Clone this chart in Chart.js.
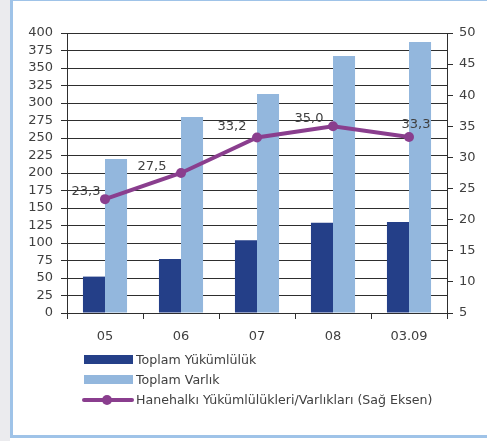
<!DOCTYPE html>
<html>
<head>
<meta charset="utf-8">
<script src="https://cdn.jsdelivr.net/npm/chart.js@4/dist/chart.umd.min.js"></script>
<style>
  html, body { margin: 0; padding: 0; }
  body { width: 487px; height: 441px; position: relative; overflow: hidden; background: #ffffff; font-family: "DejaVu Sans", sans-serif; }
  #strip { position: absolute; left: 0; top: 0; width: 10px; height: 441px; background: #ebebee; }
  #frame { position: absolute; left: 10px; top: 0; width: 480px; height: 438px; box-sizing: border-box;
           border-left: 3px solid #9fc3e8; border-top: 1px solid #9fc3e8; border-bottom: 3px solid #9fc3e8; }
  #wrap { position: absolute; left: 0; top: 0; width: 487px; height: 441px; }
  #legend { position: absolute; left: 82px; top: 350px; color: #404040; font-size: 12.6px; }
  .item { position: absolute; left: 0; height: 20px; width: 400px; white-space: nowrap; }
  .item span.txt { position: absolute; left: 54px; top: 0; line-height: 20px; }
  .sw { position: absolute; left: 2px; width: 49px; height: 9px; top: 5px; }
  .ln { position: absolute; left: 0; width: 52px; height: 4px; top: 8px; border-radius: 2px; }
  .dot { position: absolute; left: 20px; top: 5px; width: 10px; height: 10px; border-radius: 50%; }
</style>
</head>
<body>
<div id="strip"></div>
<div id="frame"></div>
<div id="wrap"><canvas id="c" width="487" height="441"></canvas></div>
<div id="legend"></div>
<script>
// Periods on the x axis
const categories = ['05', '06', '07', '08', '03.09'];
// Household balance sheet (left axis)
const totalLiabilities = [52, 77, 104, 129, 130];
const totalAssets = [220, 280, 313, 367, 387];
// Liabilities / assets ratio, % (right axis)
const liabilityAssetRatio = [23.3, 27.5, 33.2, 35.0, 33.3];
// Series names
const seriesNames = ['Toplam Yükümlülük', 'Toplam Varlık', 'Hanehalkı Yükümlülükleri/Varlıkları (Sağ Eksen)'];
// Axis ranges
const leftAxis = { min: 0, max: 400, step: 25 };
const rightAxis = { min: 5, max: 50, step: 5 };

const colors = { dark: '#243f88', light: '#93b7dd', purple: '#8a3e8e', text: '#404040', grid: '#2e2e2e' };
// Value label offsets from each ratio point (px)
const labelOffsets = [[-19, -8], [-29, -6], [-25, -11], [-24, -8], [7, -12]];

const ratioLabels = {
  id: 'ratioLabels',
  afterDatasetsDraw(chart) {
    const ctx = chart.ctx;
    const meta = chart.getDatasetMeta(2);
    ctx.save();
    ctx.font = '13px "DejaVu Sans", sans-serif';
    ctx.fillStyle = colors.text;
    ctx.textAlign = 'center';
    ctx.textBaseline = 'middle';
    meta.data.forEach((pt, i) => {
      const txt = liabilityAssetRatio[i].toFixed(1).replace('.', ',');
      ctx.fillText(txt, pt.x + labelOffsets[i][0], pt.y + labelOffsets[i][1]);
    });
    ctx.restore();
  }
};

const tickFont = { family: '"DejaVu Sans", sans-serif', size: 13 };

new Chart(document.getElementById('c'), {
  type: 'bar',
  data: {
    labels: categories,
    datasets: [
      { label: seriesNames[0], data: totalLiabilities, backgroundColor: colors.dark, yAxisID: 'y', order: 1,
        categoryPercentage: 0.58, barPercentage: 1 },
      { label: seriesNames[1], data: totalAssets, backgroundColor: colors.light, yAxisID: 'y', order: 2,
        categoryPercentage: 0.58, barPercentage: 1 },
      { type: 'line', label: seriesNames[2], data: liabilityAssetRatio, yAxisID: 'y1', order: 0,
        borderColor: colors.purple, backgroundColor: colors.purple, borderWidth: 4,
        pointRadius: 5, pointHoverRadius: 5, pointBackgroundColor: colors.purple, pointBorderWidth: 0,
        tension: 0, fill: false }
    ]
  },
  options: {
    responsive: false,
    animation: false,
    events: [],
    layout: { padding: { top: 33, left: 0, right: 0, bottom: 0 } },
    plugins: { legend: { display: false }, tooltip: { enabled: false } },
    scales: {
      x: {
        afterFit(s) { s.height = 128; },
        grid: { display: true, drawOnChartArea: false, drawTicks: true, tickLength: 6, color: colors.grid, offset: true },
        border: { display: true, color: colors.grid, width: 1 },
        ticks: { color: colors.text, font: tickFont, padding: 10 }
      },
      y: {
        position: 'left',
        min: leftAxis.min, max: leftAxis.max,
        afterFit(s) { s.width = 67; },
        ticks: { stepSize: leftAxis.step, maxTicksLimit: 30, autoSkip: false, color: colors.text, font: tickFont, padding: 8 },
        grid: { color: colors.grid, lineWidth: 1, tickLength: 6, drawTicks: true },
        border: { display: true, color: colors.grid, width: 1 }
      },
      y1: {
        position: 'right',
        min: rightAxis.min, max: rightAxis.max,
        afterFit(s) { s.width = 40; },
        ticks: { stepSize: rightAxis.step, maxTicksLimit: 30, autoSkip: false, color: colors.text, font: tickFont, padding: 6 },
        grid: { drawOnChartArea: false, color: colors.grid, tickLength: 6, drawTicks: true },
        border: { display: true, color: colors.grid, width: 1 }
      }
    }
  },
  plugins: [ratioLabels]
});

// Legend, one series per row
const legend = document.getElementById('legend');
const swatches = [colors.dark, colors.light];
seriesNames.forEach((name, i) => {
  const row = document.createElement('div');
  row.className = 'item';
  row.style.top = (i * 20) + 'px';
  if (i < 2) {
    const sw = document.createElement('div');
    sw.className = 'sw';
    sw.style.background = swatches[i];
    row.appendChild(sw);
  } else {
    const ln = document.createElement('div');
    ln.className = 'ln';
    ln.style.background = colors.purple;
    const dot = document.createElement('div');
    dot.className = 'dot';
    dot.style.background = colors.purple;
    row.appendChild(ln);
    row.appendChild(dot);
  }
  const t = document.createElement('span');
  t.className = 'txt';
  t.textContent = name;
  row.appendChild(t);
  legend.appendChild(row);
});
</script>
</body>
</html>
